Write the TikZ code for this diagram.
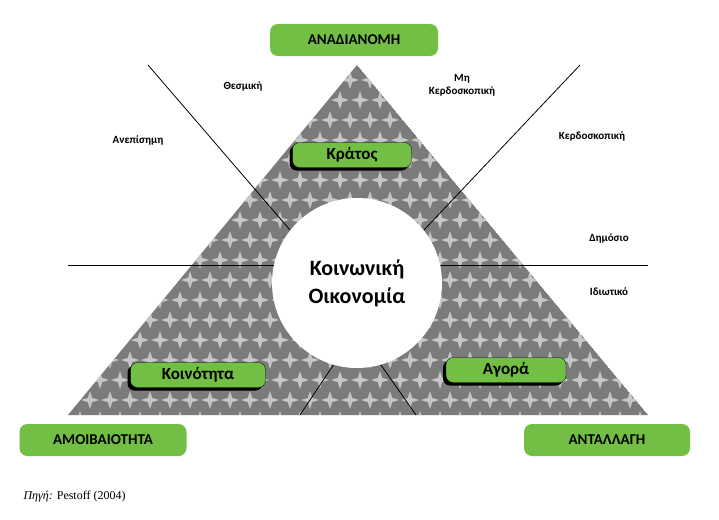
\documentclass[tikz,border=0pt]{standalone}
\usepackage{fontspec}
\setmainfont{Carlito}
\newfontfamily\srcfont{Liberation Serif}
\definecolor{gboxc}{RGB}{115,190,68}
\begin{document}
\begin{tikzpicture}[x=1pt,y=-1pt,
 gbox/.style={fill=gboxc, rounded corners=8pt, minimum height=32pt, font=\bfseries\fontsize{15}{17}\selectfont},
 sbox/.style={fill=gboxc, rounded corners=7pt, minimum height=25pt, inner sep=0pt, font=\bfseries\fontsize{17}{19}\selectfont, draw=black, line width=0.3pt},
 shad/.style={fill=black, rounded corners=7pt, minimum height=25pt, inner sep=0pt},
 lab/.style={font=\bfseries\fontsize{11}{13}\selectfont, align=center}]
\useasboundingbox (0,0) rectangle (719,519);
\fill[white] (0,0) rectangle (719,519);
\coordinate (A) at (357,65); \coordinate (L) at (68,415); \coordinate (R) at (648,415);
\begin{scope}
\clip (A) -- (L) -- (R) -- cycle;
\fill[gray!85!black!90] (A) -- (L) -- (R) -- cycle;
\foreach \i in {0,...,30}{\foreach \j in {0,...,18}{
  \pgfmathsetmacro\xx{60+\i*20+mod(\j,2)*10}
  \pgfmathsetmacro\yy{60+\j*20}
  \fill[gray!45] (\xx,\yy-9) .. controls (\xx+3,\yy) .. (\xx,\yy+9) .. controls (\xx-3,\yy) .. cycle;
  \fill[gray!45] (\xx-9,\yy) .. controls (\xx,\yy-3) .. (\xx+9,\yy) .. controls (\xx,\yy+3) .. cycle;
}}
\end{scope}
\coordinate (h1) at (68,265); \coordinate (h2) at (648,265);
\draw[line width=0.8pt] (h1) -- (h2);
\coordinate (d1) at (148,65); \coordinate (d1e) at (290,230);
\coordinate (d2) at (580,65); \coordinate (d2e) at (424,230);
\draw[line width=0.8pt] (d1) -- (d1e);
\draw[line width=0.8pt] (d2) -- (d2e);
\coordinate (b1) at (340,355); \coordinate (b1e) at (300,415);
\coordinate (b2) at (374,355); \coordinate (b2e) at (416,415);
\draw[line width=0.8pt] (b1) -- (b1e);
\draw[line width=0.8pt] (b2) -- (b2e);
\node[circle, fill=white, minimum size=170pt, inner sep=0pt, align=center,
 font=\bfseries\fontsize{22}{28}\selectfont] (c) at (357,283) {Κοινωνική\\Οικονομία};
\node[gbox, minimum width=168pt] (anad) at (354,40) {ΑΝΑΔΙΑΝΟΜΗ};
\node[gbox, minimum width=167pt] (amoi) at (103,440) {ΑΜΟΙΒΑΙΟΤΗΤΑ};
\node[gbox, minimum width=166pt] (anta) at (607,440) {ΑΝΤΑΛΛΑΓΗ};
\node[shad, minimum width=119pt] (kratS) at (349,158) {};
\node[shad, minimum width=135pt] (koinS) at (195,378) {};
\node[shad, minimum width=120pt] (agorS) at (503,373) {};
\node[sbox, minimum width=119pt] (krat) at (352,155) {Κράτος};
\node[sbox, minimum width=135pt] (koin) at (198,375) {Κοινότητα};
\node[sbox, minimum width=120pt] (agor) at (506,370) {Αγορά};
\node[lab] (l1) at (243,86) {Θεσμική};
\node[lab] (l2) at (462,85) {Μη\\Κερδοσκοπική};
\node[lab] (l3) at (138,140) {Ανεπίσημη};
\node[lab] (l4) at (592,136) {Κερδοσκοπική};
\node[lab] (l5) at (609,238) {Δημόσιο};
\node[lab] (l6) at (609,292) {Ιδιωτικό};
\node[anchor=west, font=\srcfont\fontsize{12}{14}\selectfont] (src) at (20,497) {\textit{Πηγή:} Pestoff (2004)};
\end{tikzpicture}
\end{document}
